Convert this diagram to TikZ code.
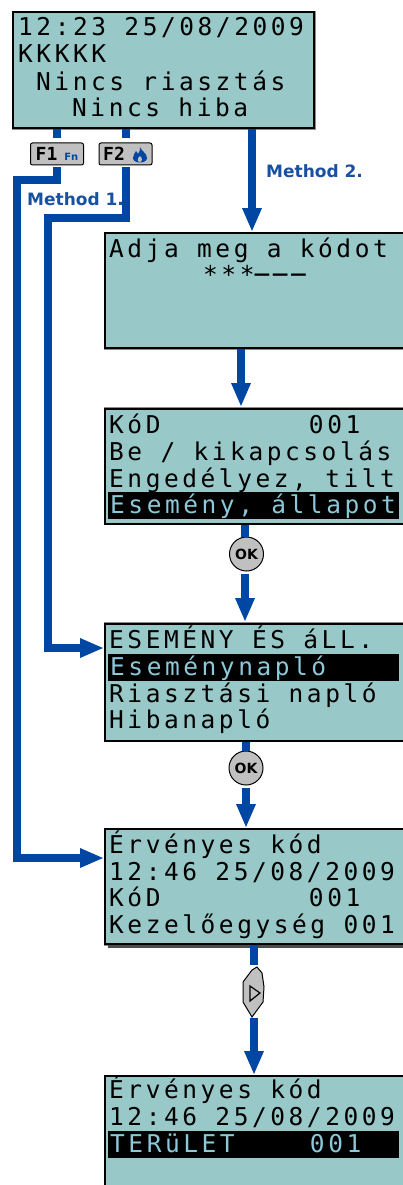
\documentclass[tikz,border=0pt]{standalone}
\usepackage{fontspec}
\usetikzlibrary{positioning, arrows.meta}

\newfontfamily\lcdface[LetterSpace=14.5]{DejaVu Sans Mono}
\newfontfamily\keyface{DejaVu Sans Mono}
\newfontfamily\labelface{DejaVu Sans}

\definecolor{lcdgreen}{RGB}{152,200,200}
\definecolor{lcdcyan}{RGB}{140,200,215}
\definecolor{flowblue}{RGB}{0,71,163}
\definecolor{methodblue}{RGB}{25,80,160}
\definecolor{keygrey}{RGB}{192,192,192}

\newcommand{\barrow}[1]{\hspace*{2pt}\mbox{#1}}

\tikzset{
	screen/.style={draw=black, fill=lcdgreen, line width=2pt, anchor=north west, inner sep=0pt,
		minimum width=#1, minimum height=115pt,
		preaction={draw=black!45, line width=3pt}},
	lcdshadow/.style={preaction={fill=black!70, transform canvas={xshift=3pt, yshift=-4pt}}},
	lcdrow/.style={anchor=base west, inner sep=0pt, font=\lcdface\fontsize{24.5}{24.5}\selectfont},
	lcdbar/.style={lcdrow, fill=black, text=lcdcyan, align=flush left, text width=291pt, text height=21pt, text depth=6pt},
	flow/.style={draw=flowblue, line width=8pt},
	flowarrow/.style={flow, -{Triangle[length=24pt,width=18pt]}},
	fkey/.style={draw=black, fill=keygrey, line width=1pt, rounded corners=2pt, inner sep=0pt,
		minimum width=53pt, minimum height=22pt, font=\keyface\bfseries\fontsize{18}{18}\selectfont},
	okkey/.style={circle, draw=black, fill=keygrey, line width=1pt, inner sep=0pt, minimum size=34pt,
		font=\labelface\bfseries\fontsize{14}{14}\selectfont},
	method/.style={anchor=base west, inner sep=0pt, text=methodblue, font=\labelface\bfseries\fontsize{17}{17}\selectfont}
}

\begin{document}
\begin{tikzpicture}[x=1pt, y=-1pt]
	\useasboundingbox (0,0) rectangle (403,1185);

	% screens
	\node[screen=301pt, minimum height=116pt] (screen1) at (12,11.5) {};
	\node[screen=320pt] (screen2) at (104,232) {};
	\node[screen=320pt] (screen3) at (104,407.5) {};
	\node[screen=320pt, minimum height=117pt] (screen4) at (104,622.5) {};
	\node[screen=320pt, lcdshadow] (screen5) at (104,828) {};
	\node[screen=320pt] (screen6) at (104,1075) {};

	% screen texts
	\node[lcdrow] (s1a) at (18,36) {12:23 25/08/2009};
	\node[lcdrow] (s1b) at (18,63) {KKKKK};
	\node[lcdrow] (s1c) at (36,91) {Nincs riasztás};
	\node[lcdrow] (s1d) at (72,117) {Nincs hiba};

	\node[lcdrow] (s2a) at (109,257) {Adja meg a kódot};
	\node[lcdrow] (s2b) at (203,283) {***\smash{\raisebox{13pt}{\bfseries\_\_\_}}};

	\node[lcdrow] (s3a) at (109,433) {KóD~~~~~~~~\hspace{2pt}001};
	\node[lcdrow] (s3b) at (109,460) {Be / kikapcsolás};
	\node[lcdrow] (s3c) at (109,487) {Engedélyez, tilt};
	\node[lcdbar] (s3d) at (108,513) {\barrow{Esemény, állapot}};

	\node[lcdrow] (s4a) at (109,648) {ESEMÉNY ÉS áLL.};
	\node[lcdbar] (s4b) at (108,675) {\barrow{Eseménynapló}};
	\node[lcdrow] (s4c) at (109,702) {Riasztási napló};
	\node[lcdrow] (s4d) at (109,728) {Hibanapló};

	\node[lcdrow] (s5a) at (109,853) {Érvényes kód};
	\node[lcdrow] (s5b) at (109,880) {12:46 25/08/2009};
	\node[lcdrow] (s5c) at (109,906) {KóD~~~~~~~~\hspace{2pt}001};
	\node[lcdrow] (s5d) at (109,933) {Kezelőegység 001};

	\node[lcdrow] (s6a) at (109,1098) {Érvényes kód};
	\node[lcdrow] (s6b) at (109,1125) {12:46 25/08/2009};
	\node[lcdbar] (s6c) at (108,1152) {\barrow{TERüLET~~~~\hspace{2pt}001}};

	% keys
	\node[fkey] (f1key) at (57,154) {F1\hspace{7pt}{\labelface\fontsize{10}{10}\selectfont\color{flowblue}Fn}};
	\node[fkey] (f2key) at (125.5,154) {F2\hspace{23pt}\mbox{}};
	\fill[flowblue] (140,147) .. controls (141,151) and (147,153) .. (147,158)
		.. controls (147,164) and (133,164) .. (133,158)
		.. controls (133,155) and (135,153) .. (136,151)
		.. controls (137,153) and (138,153) .. (138,154)
		.. controls (140,152) and (140,149) .. (140,147) -- cycle;
	\fill[keygrey] (140,156) .. controls (143,158) and (142,162) .. (140,162)
		.. controls (137,162) and (137,158) .. (140,156) -- cycle;
	\node[okkey] (ok1) at (246.5,554) {OK};
	\node[okkey] (ok2) at (246,768) {OK};

	\fill[keygrey, draw=black, line width=1pt] (257,967) -- (262,973) -- (264,987) -- (263,1002) -- (252,1017)
		-- (243,1002) -- (243,982) -- (252,970) -- cycle;
	\draw[black, line width=1.2pt] (250,986) -- (260,993) -- (250,1001) -- cycle;
	\node[inner sep=0pt, minimum width=22pt, minimum height=52pt] (rightkey) at (254,991.5) {};

	% method labels
	\node[method] (method1) at (27,205) {Method 1.};
	\node[method] (method2) at (266,178) {Method 2.};

	% turning points
	\coordinate (in2) at (252,232);
	\coordinate (in3) at (241,407);
	\coordinate (in4) at (245,622);
	\coordinate (in5) at (246,828);
	\coordinate (in6) at (254,1075);
	\coordinate (f1turn) at (17,180.5);
	\coordinate (f2turn) at (47.5,218);
	\coordinate (f1in) at (104,858);
	\coordinate (f2in) at (104,648);

	% connectors
	\draw[flow, shorten >=4pt] (screen1.south -| f1key) -- (f1key.north);
	\draw[flow, shorten >=4pt] (screen1.south -| f2key) -- (f2key.north);
	\draw[flowarrow, shorten <=2pt] (f1key.south) |- (f1turn) |- (f1in);
	\draw[flowarrow, shorten <=2pt] (f2key.south) |- (f2turn) |- (f2in);
	\draw[flowarrow] (in2 |- screen1.south) -- (in2);
	\draw[flowarrow] (in3 |- screen2.south) -- (in3);
	\draw[flow] (in4 |- screen3.south) -- (in4 |- ok1.north);
	\draw[flowarrow, shorten <=2pt] (in4 |- ok1.south) -- (in4);
	\draw[flow] (in5 |- screen4.south) -- (in5 |- ok2.north);
	\draw[flowarrow, shorten <=2pt] (in5 |- ok2.south) -- (in5);
	\draw[flow] (in6 |- screen5.south) -- (in6 |- rightkey.north);
	\draw[flowarrow] (in6 |- rightkey.south) -- (in6);
\end{tikzpicture}
\end{document}
